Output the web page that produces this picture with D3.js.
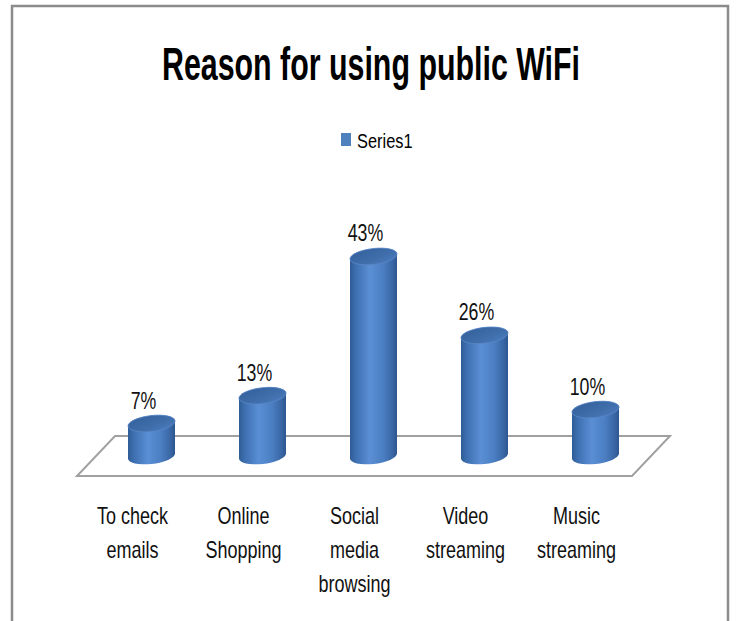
<!DOCTYPE html>
<html>
<head>
<meta charset="utf-8">
<script src="https://cdn.jsdelivr.net/npm/d3@7"></script>
<style>
  html, body { margin: 0; padding: 0; background: #fff; }
  svg { display: block; }
</style>
</head>
<body>
<svg id="chart" width="737" height="621"></svg>
<script>
// Chart content
const title = "Reason for using public WiFi";
const seriesName = "Series1";
const categories = [
  ["To check", "emails"],
  ["Online", "Shopping"],
  ["Social", "media", "browsing"],
  ["Video", "streaming"],
  ["Music", "streaming"]
];
const values = [0.07, 0.13, 0.43, 0.26, 0.10];

const svg = d3.select("#chart");
const font = "'Liberation Sans', Arial, sans-serif";

// Place a horizontally condensed text at (x, y)
function narrowText(parent, x, y, str, factor, anchor) {
  return parent.append("text")
    .attr("transform", `translate(${x},${y}) scale(${factor},1)`)
    .attr("text-anchor", anchor || "middle")
    .attr("font-family", font)
    .text(str);
}

// Outer frame
svg.append("path")
  .attr("d", "M12,640 L12,6 L728,6 L728,640")
  .attr("fill", "none")
  .attr("stroke", "#8c8c8c")
  .attr("stroke-width", 2.5);

// Title
narrowText(svg, 371, 80, title, 0.66)
  .attr("font-weight", "bold")
  .attr("font-size", 46)
  .attr("fill", "#000");

// Legend
const legend = svg.append("g");
legend.append("rect")
  .attr("x", 341).attr("y", 133).attr("width", 10).attr("height", 13)
  .attr("fill", "#4f81bd");
narrowText(legend, 357, 148, seriesName, 0.82, "start")
  .attr("font-size", 20)
  .attr("fill", "#000");

// Scales: bars stand on the middle depth plane of the floor
const x = d3.scaleBand()
  .domain(d3.range(categories.length))
  .range([96, 651])
  .padding(0);
const y = d3.scaleLinear().domain([0, 0.5]).range([456, 224]);
const fmt = d3.format(".0%");

// Depth offsets for the oblique floor
const depthX = 19, depthY = 20;
const x0 = x.range()[0], x1 = x.range()[1], y0 = y(0);

// Floor parallelogram
svg.append("path")
  .attr("d", `M${x0 + depthX},${y0 - depthY} L${x1 + depthX},${y0 - depthY} ` +
             `L${x1 - depthX},${y0 + depthY} L${x0 - depthX},${y0 + depthY} Z`)
  .attr("fill", "none")
  .attr("stroke", "#a0a0a0")
  .attr("stroke-width", 2);

// Gradients for the cylinders
const defs = svg.append("defs");
const sideGrad = defs.append("linearGradient").attr("id", "cylSide")
  .attr("x1", 0).attr("x2", 1).attr("y1", 0).attr("y2", 0);
[[0, "#2f5c95"], [0.12, "#3d6fb0"], [0.42, "#5a8fd5"], [0.7, "#4b7fc3"], [0.9, "#3a67a5"], [1, "#2d5690"]]
  .forEach(([o, c]) => sideGrad.append("stop").attr("offset", o).attr("stop-color", c));
const capGrad = defs.append("linearGradient").attr("id", "cylTop")
  .attr("x1", 0).attr("x2", 1).attr("y1", 0).attr("y2", 1);
[[0, "#34609a"], [0.6, "#3f6eab"], [1, "#4b7dbe"]]
  .forEach(([o, c]) => capGrad.append("stop").attr("offset", o).attr("stop-color", c));

const rx = 23.5, ry = 8, tilt = -6;

const bars = svg.append("g").selectAll("g")
  .data(values)
  .join("g")
  .attr("transform", (d, i) => `translate(${x(i) + x.bandwidth() / 2},0) skewY(${tilt})`);

bars.append("path")
  .attr("d", d => {
    const yt = y(d), yb = y(0);
    return `M${-rx},${yt} L${-rx},${yb} A${rx},${ry} 0 0 0 ${rx},${yb} ` +
           `L${rx},${yt} A${rx},${ry} 0 0 0 ${-rx},${yt} Z`;
  })
  .attr("fill", "url(#cylSide)");

bars.append("ellipse")
  .attr("cx", 0).attr("cy", d => y(d))
  .attr("rx", rx).attr("ry", ry)
  .attr("fill", "url(#cylTop)")
  .attr("stroke", "#5a88c8")
  .attr("stroke-width", 0.8);

// Value labels
const valueLayer = svg.append("g");
values.forEach((v, i) => {
  narrowText(valueLayer, x(i) + x.bandwidth() / 2 - 8, y(v) - 15, fmt(v), 0.74)
    .attr("font-size", 24)
    .attr("fill", "#111");
});

// Category labels along the front edge
const catLayer = svg.append("g");
categories.forEach((lines, i) => {
  lines.forEach((line, j) => {
    narrowText(catLayer, x(i) + x.bandwidth() / 2 - depthX, 524 + j * 34, line, 0.75)
      .attr("font-size", 24)
      .attr("fill", "#111");
  });
});
</script>
</body>
</html>
